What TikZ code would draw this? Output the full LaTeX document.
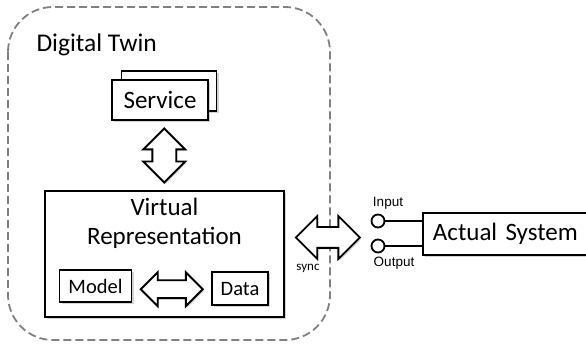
\documentclass[tikz,border=0pt]{standalone}
\usepackage{fontspec}
\setmainfont{Carlito}
\newfontfamily\arialfont{Liberation Sans}
\usetikzlibrary{positioning,calc,shapes.arrows,shadows}

\tikzset{
  box/.style={draw, line width=1.9pt, fill=white, inner sep=0pt,
    drop shadow={opacity=0.35, shadow xshift=2pt, shadow yshift=-2pt}},
  blockarrow/.style={double arrow, draw, line width=1.8pt, fill=white,
    double arrow head extend=9pt, inner sep=0pt, inner ysep=11pt,
    drop shadow={opacity=0.3, shadow xshift=1.5pt, shadow yshift=-1.5pt}},
  port/.style={circle, draw, line width=1.8pt, fill=white, minimum size=13pt, inner sep=0pt},
  portlabel/.style={font=\arialfont\fontsize{13.5}{16}\selectfont, inner sep=0pt}
}

\begin{document}
\begin{tikzpicture}[x=1pt, y=-1pt]
        \useasboundingbox (0,0) rectangle (586,344);
        \clip (0,0) rectangle (586,344);
        % digital twin frame
        \draw[dash pattern=on 8pt off 4pt, line width=1.8pt, black!50,
          rounded corners=45pt] (8,7) rectangle (330,340);
        \node[anchor=west, font=\fontsize{25.5}{30}\selectfont] (dtlabel) at (33,45) {Digital Twin};
        % service (stacked)
        \node[box, minimum width=95pt, minimum height=40pt] (servicebg) at (169,91) {};
        \node[box, minimum width=96pt, minimum height=40pt,
          font=\fontsize{25}{30}\selectfont] (service) at (160,100) {Service};
        % virtual representation
        \node[box, minimum width=239pt, minimum height=126pt] (virtual) at (164.5,254) {};
        \node[align=center, anchor=north, font=\fontsize{25}{29}\selectfont, inner sep=0pt]
          (vrtitle) at ($(virtual.north)+(0,8)$) {Virtual\\Representation};
        \node[box, minimum width=72pt, minimum height=32pt,
          font=\fontsize{20.5}{24}\selectfont] (model) at (95.5,286) {Model};
        \node[box, minimum width=56pt, minimum height=33pt,
          font=\fontsize{20.5}{24}\selectfont] (data) at (240,288.5) {Data};
        % actual system
        \node[box, minimum width=190pt, minimum height=42pt, anchor=west,
          font=\fontsize{25}{30}\selectfont, text width=170pt, align=left,
          inner xsep=10pt] (actual) at (422,234) {Actual System};
        \node[port] (inport) at (378,221) {};
        \node[port] (outport) at (378,246) {};
        \node[portlabel, above=4pt of inport, xshift=10pt] (inlabel) {Input};
        \node[portlabel, below=3pt of outport, xshift=16pt] (outlabel) {Output};
        \draw[line width=1.8pt] (inport) -- (inport -| actual.west);
        \draw[line width=1.8pt] (outport) -- (outport -| actual.west);
        % block arrows
        \node[blockarrow, rotate=90, minimum height=54pt]
          (svcarrow) at ($(service.south)!0.5!(virtual.north)+(2,0)$) {};
        \node[blockarrow, minimum height=62pt, inner ysep=8pt, double arrow head extend=8pt]
          (mdarrow) at ($(model.east)!0.5!(data.west)+(0,2)$) {};
        \node[blockarrow, minimum height=64pt, inner ysep=9.5pt, double arrow head extend=11pt]
          (syncarrow) at ($(virtual.east)!0.5!(inport.west)+(0,0)$) {};
        \node[font=\fontsize{13}{15}\selectfont, inner sep=0pt] (synclabel) at (308,268) {sync};
\end{tikzpicture}
\end{document}
